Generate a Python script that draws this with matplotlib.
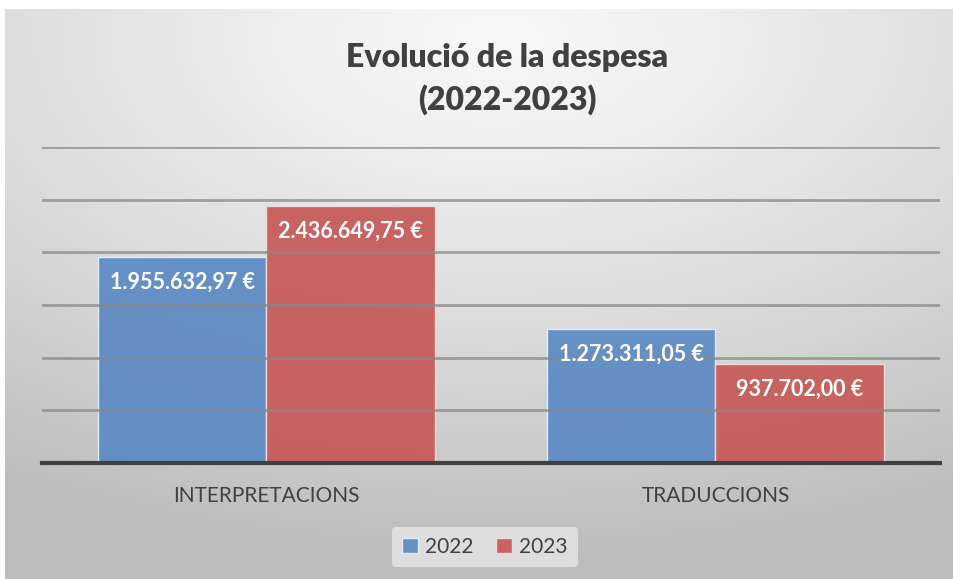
import numpy as np
import matplotlib.pyplot as plt

# dades
categories = ['INTERPRETACIONS', 'TRADUCCIONS']
anys = ['2022', '2023']
despesa_2022 = [1955632.97, 1273311.05]
despesa_2023 = [2436649.75, 937702.00]
etiquetes_2022 = ['1.955.632,97 €', '1.273.311,05 €']
etiquetes_2023 = ['2.436.649,75 €', '937.702,00 €']
titol = 'Evolució de la despesa\n(2022-2023)'

color_2022 = '#5f8cc4'
color_2023 = '#c65c5a'
plt.rcParams['font.family'] = ['Lato', 'DejaVu Sans']

fig = plt.figure(figsize=(9.54, 5.79), dpi=100)
fig.patch.set_facecolor('white')

# fons amb degradat radial
bg = fig.add_axes([5 / 954, 0, 949 / 954, 1 - 9 / 579], zorder=-10)
yy, xx = np.mgrid[0:1:300j, 0:1:500j]
dist = np.sqrt((xx - 0.52) ** 2 + ((yy - 0.05) * 1.1) ** 2)
grad = np.clip(dist, 0, 1)
bg.imshow(grad, cmap='Greys', vmin=-0.2, vmax=3.0, aspect='auto',
          extent=[0, 1, 0, 1], origin='upper')
bg.set_axis_off()

ax = fig.add_axes([42 / 954, 1 - 463 / 579, 898 / 954, (463 - 147) / 579])
ax.set_facecolor('none')

x = np.arange(len(categories))
w = 0.375
b1 = ax.bar(x - w / 2, despesa_2022, w, color=color_2022, alpha=0.95,
            edgecolor='#e8eef6', linewidth=1.0, label=anys[0], zorder=2)
b2 = ax.bar(x + w / 2, despesa_2023, w, color=color_2023, alpha=0.95,
            edgecolor='#f0dcdc', linewidth=1.0, label=anys[1], zorder=2)

for rect, txt in zip(list(b1) + list(b2), etiquetes_2022 + etiquetes_2023):
    ax.annotate(txt, (rect.get_x() + rect.get_width() / 2, rect.get_height()),
                xytext=(0, -25), textcoords='offset pixels',
                ha='center', va='center', color='white', fontsize=15.5,
                fontweight='bold', zorder=4)

ax.set_xlim(-0.5, 1.5)
ax.set_ylim(0, 3000000)
ax.set_yticks(np.arange(500000, 3000001, 500000))
ax.yaxis.grid(True, color='#888888', linewidth=2, alpha=0.75, zorder=3)
ax.set_axisbelow(False)
ax.tick_params(axis='y', left=False, labelleft=False)
ax.tick_params(axis='x', bottom=False, pad=13)
ax.set_xticks(x)
ax.set_xticklabels(categories, fontsize=15, color='#404040')
for s in ['top', 'right', 'left']:
    ax.spines[s].set_visible(False)
ax.spines['bottom'].set_color('#404040')
ax.spines['bottom'].set_linewidth(3)
ax.spines['bottom'].set_zorder(5)

fig.text(507 / 954, 1 - 79 / 579, titol, ha='center', va='center',
         fontsize=23, fontweight='heavy', color='#404040', linespacing=1.45)

leg = fig.legend(loc='center', bbox_to_anchor=(485 / 954, 1 - 547 / 579),
                 ncol=2, frameon=True, fontsize=15, handlelength=0.75,
                 handleheight=0.75, handletextpad=0.35, columnspacing=1.1,
                 borderpad=0.5)
leg.get_frame().set_facecolor('#e6e6e6')
leg.get_frame().set_edgecolor('none')
leg.get_frame().set_alpha(0.8)
for t in leg.get_texts():
    t.set_color('#404040')

fig.savefig('out.png', dpi=100)
